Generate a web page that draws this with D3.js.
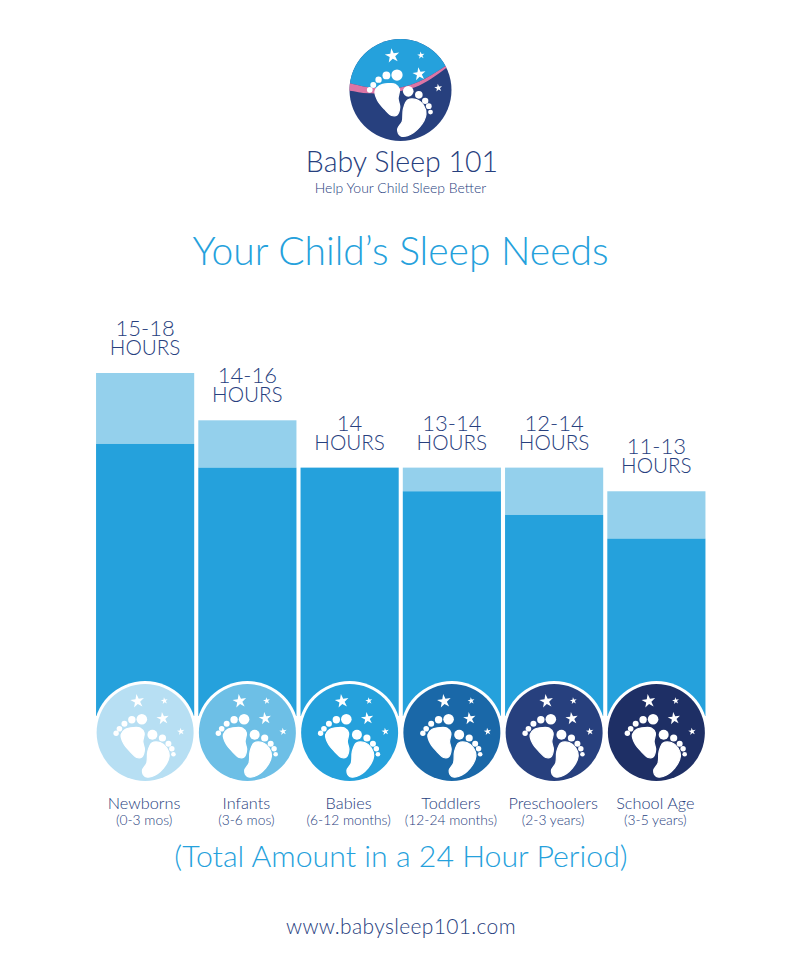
<!DOCTYPE html>
<html>
<head>
<meta charset="utf-8">
<script src="https://cdn.jsdelivr.net/npm/d3@7"></script>
<style>
body { margin: 0; background: #fff; }
text { font-family: Lato, "Open Sans", sans-serif; font-weight: 300; text-anchor: middle; }
</style>
</head>
<body>
<svg id="chart" width="800" height="977"></svg>
<script>
var categories = ["Newborns", "Infants", "Babies", "Toddlers", "Preschoolers", "School Age"];
var ages = ["(0-3 mos)", "(3-6 mos)", "(6-12 months)", "(12-24 months)", "(2-3 years)", "(3-5 years)"];
var minHours = [15, 14, 14, 13, 12, 11];
var maxHours = [18, 16, 14, 14, 14, 13];
var rangeLabels = ["15-18", "14-16", "14", "13-14", "12-14", "11-13"];
var badgeColors = ["#b7dff3", "#6dbfe6", "#25a1dc", "#1a68a8", "#27407e", "#1e2f65"];

var lightBlue = "#94d0ec", blue = "#25a1dc", navy = "#27407e", pink = "#dc75a5";

// Foot shapes, relative to the middle of a badge.
var leftFoot = [[-11.7,-5],[-5,-4.5],[-1,0.5],[-2.3,9],[-0.7,17],[-3.3,24.5],[-8.3,25],[-15,19],[-21.7,10.5],[-24,2],[-20,-3]];
var rightFoot = [[6.7,10.5],[15,10],[21.7,15.5],[24,24],[18.3,35.5],[6.7,44],[0,44],[-2.7,38],[1.7,30.5],[2.7,19]];
var toes = [[-3.3,-13.2,5.3],[-13.3,-12.8,3.7],[-20.7,-8.8,3],[-25.7,-3.8,2.8],[-29,0.8,2.7],
            [7.3,2.2,5],[17.3,5.5,3.6],[23.3,11.2,3],[26.7,16.2,2.7],[28.3,21.8,2.3]];
var stars = [[-7.7,-31.3,7.2],[19.3,-31.7,3.6],[17.7,-14,6.5],[35.7,-1,3.9]];

// Pink band of the logo: x, upper edge, lower edge.
var band = [[-60,-8,0],[-50.8,-6.7,0.7],[-32,-2.7,3.3],[-5,-1.7,2],[14.5,-6.7,-2.7],[31,-15,-11.5],[45,-24,-21.5],[55,-32,-30]];

var svg = d3.select("#chart");

var x = d3.scaleBand()
    .domain(categories)
    .range([94, 707.5])
    .paddingInner(0.04)
    .paddingOuter(0.02);

// hours -> pixels, the bars run behind the badges
var y = d3.scaleLinear().domain([3.5, 18]).range([716, 373]);

var blob = d3.line().curve(d3.curveCatmullRomClosed);

function draw_feet(g) {
    g.append("path").attr("d", blob(leftFoot)).attr("fill", "#fff").attr("stroke", "#fff").attr("stroke-width", 1.2);
    g.append("path").attr("d", blob(rightFoot)).attr("fill", "#fff").attr("stroke", "#fff").attr("stroke-width", 1.2);
    g.selectAll("circle.toe").data(toes).enter().append("circle")
        .attr("class", "toe")
        .attr("cx", d => d[0])
        .attr("cy", d => d[1])
        .attr("r", d => d[2])
        .attr("fill", "#fff");
    g.selectAll("path.star").data(stars).enter().append("path")
        .attr("class", "star")
        .attr("d", d => d3.symbol().type(d3.symbolStar).size(d[2] * d[2] / 0.89)())
        .attr("transform", d => "translate(" + d[0] + "," + d[1] + ") rotate(-8)")
        .attr("fill", "#fff");
}

// Logo
var logo = svg.append("g").attr("transform", "translate(400.5,90)");
var defs = svg.append("defs");
defs.append("clipPath").attr("id", "logo-clip").append("circle").attr("r", 51);

logo.append("circle").attr("r", 51).attr("fill", navy);
var clipped = logo.append("g").attr("clip-path", "url(#logo-clip)");
var bandCurve = d3.area().curve(d3.curveCatmullRom).x(d => d[0]);
clipped.append("path")
    .attr("d", bandCurve.y0(-60).y1(d => d[1])(band))
    .attr("fill", blue);
clipped.append("path")
    .attr("d", bandCurve.y0(d => d[1]).y1(d => d[2])(band))
    .attr("fill", pink);
logo.append("g").attr("transform", "translate(0,-1) scale(1.06)").call(draw_feet);

svg.append("text").attr("x", 402).attr("y", 172).attr("font-size", 28.5).attr("fill", navy).text("Baby Sleep 101");
svg.append("text").attr("x", 400.5).attr("y", 193).attr("font-size", 14).attr("fill", navy).text("Help Your Child Sleep Better");
svg.append("text").attr("x", 400.5).attr("y", 265).attr("font-size", 39).attr("fill", blue).text("Your Child\u2019s Sleep Needs");

// Bars
var bars = svg.selectAll("g.bar")
    .data(categories)
    .enter().append("g")
    .attr("class", "bar");

bars.append("rect")
    .attr("x", d => x(d))
    .attr("width", x.bandwidth())
    .attr("y", (d, i) => y(maxHours[i]))
    .attr("height", (d, i) => y(minHours[i]) - y(maxHours[i]))
    .attr("fill", lightBlue);

bars.append("rect")
    .attr("x", d => x(d))
    .attr("width", x.bandwidth())
    .attr("y", (d, i) => y(minHours[i]))
    .attr("height", (d, i) => y(3.5) - y(minHours[i]))
    .attr("fill", blue);

// Both lines sit in one text, the leading is tighter than the font's own.
var hourLabels = bars.append("text")
    .attr("y", (d, i) => y(maxHours[i]) - 37)
    .attr("fill", navy);

hourLabels.append("tspan")
    .attr("x", d => x(d) + x.bandwidth() / 2)
    .attr("font-size", 22)
    .text((d, i) => rangeLabels[i]);

hourLabels.append("tspan")
    .attr("x", d => x(d) + x.bandwidth() / 2)
    .attr("dy", 19)
    .attr("font-size", 20.7)
    .text("HOURS");

// Badges
var badges = bars.append("g")
    .attr("transform", d => "translate(" + (x(d) + x.bandwidth() / 2) + ",732.5)");

badges.append("circle").attr("r", 51.5).attr("fill", "#fff");
badges.append("circle").attr("r", 48.5).attr("fill", (d, i) => badgeColors[i]);
badges.each(function() { d3.select(this).call(draw_feet); });

bars.append("text")
    .attr("x", d => x(d) + x.bandwidth() / 2 - 1)
    .attr("y", 809)
    .attr("font-size", 16.3)
    .attr("fill", navy)
    .text(d => d);

bars.append("text")
    .attr("x", d => x(d) + x.bandwidth() / 2 - 1)
    .attr("y", 825)
    .attr("font-size", 13.8)
    .attr("fill", navy)
    .text((d, i) => ages[i]);

svg.append("text").attr("x", 401).attr("y", 867).attr("font-size", 30.3).attr("fill", blue).text("(Total Amount in a 24 Hour Period)");
svg.append("text").attr("x", 401).attr("y", 934).attr("font-size", 21).attr("letter-spacing", 0.35).attr("fill", navy).text("www.babysleep101.com");
</script>
</body>
</html>
